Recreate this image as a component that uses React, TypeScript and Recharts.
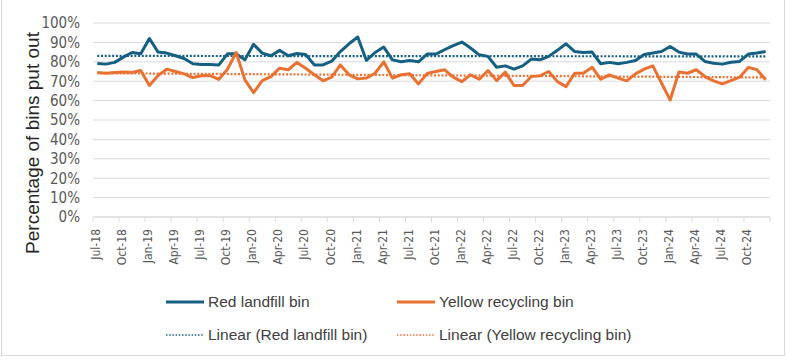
import { LineChart, Line, XAxis, YAxis, CartesianGrid } from 'recharts';

const tickLabels = [
  'Jul-18', 'Oct-18', 'Jan-19', 'Apr-19', 'Jul-19', 'Oct-19', 'Jan-20', 'Apr-20', 'Jul-20',
  'Oct-20', 'Jan-21', 'Apr-21', 'Jul-21', 'Oct-21', 'Jan-22', 'Apr-22', 'Jul-22', 'Oct-22',
  'Jan-23', 'Apr-23', 'Jul-23', 'Oct-23', 'Jan-24', 'Apr-24', 'Jul-24', 'Oct-24',
];

// monthly share of households putting each bin out, Jul-18 .. Dec-24
const redLandfill = [
  79.1, 78.8, 79.7, 82.4, 84.8, 84.1, 92.0, 85.0, 84.5, 83.1, 81.7, 79.0,
  78.6, 78.6, 78.4, 84.1, 84.1, 81.0, 89.0, 84.5, 83.1, 85.9, 83.1, 84.3,
  83.8, 78.4, 78.4, 80.3, 85.3, 89.3, 92.8, 80.7, 84.8, 87.6, 81.0, 80.0,
  80.7, 80.0, 84.0, 84.0, 86.2, 88.3, 90.2, 87.1, 83.6, 82.8, 77.2, 77.9,
  76.2, 77.9, 81.4, 81.0, 82.8, 85.9, 89.3, 85.3, 84.8, 85.0, 79.0, 79.7,
  79.0, 79.7, 80.7, 83.8, 84.5, 85.3, 87.9, 85.0, 84.0, 84.0, 80.2, 79.3,
  78.8, 79.8, 80.2, 84.0, 84.5, 85.3,
];

const yellowRecycling = [
  74.5, 74.1, 74.5, 74.7, 74.5, 75.5, 67.8, 72.9, 76.2, 75.0, 73.8, 71.9,
  72.8, 72.9, 71.0, 76.2, 84.8, 70.7, 64.1, 70.3, 72.4, 76.7, 75.9, 79.7,
  76.7, 73.3, 70.2, 72.1, 78.4, 73.3, 71.2, 71.6, 74.1, 80.0, 71.6, 73.3,
  73.8, 68.6, 74.0, 75.0, 75.9, 72.1, 69.8, 73.3, 71.0, 75.5, 70.3, 74.7,
  67.8, 67.8, 72.4, 72.8, 75.0, 69.8, 67.2, 74.1, 74.1, 77.2, 71.0, 73.3,
  71.6, 70.2, 73.8, 76.2, 77.9, 69.1, 60.3, 74.7, 74.1, 75.9, 72.4, 70.2,
  68.6, 70.3, 72.1, 77.1, 75.9, 70.7,
];

const BLUE = '#156082';
const ORANGE = '#E97132';
const GRID = '#D9D9D9';
const TEXT = '#595959';
const NARROW = "'Liberation Sans Narrow', 'DejaVu Sans Condensed', sans-serif";

// least squares trend, same as Excel's linear trendline
function fit(vals: number[]) {
  const n = vals.length;
  let sx = 0, sy = 0, sxx = 0, sxy = 0;
  vals.forEach((v, i) => {
    sx += i; sy += v; sxx += i * i; sxy += i * v;
  });
  const b = (n * sxy - sx * sy) / (n * sxx - sx * sx);
  const a = (sy - b * sx) / n;
  return (i: number) => a + b * i;
}

const redTrend = fit(redLandfill);
const yellowTrend = fit(yellowRecycling);

const data = redLandfill.map((v, i) => ({
  t: i + 0.5, // mid-month
  red: v,
  yellow: yellowRecycling[i],
  redTrend: redTrend(i),
  yellowTrend: yellowTrend(i),
}));

const xTicks = [...tickLabels.map((_, i) => i * 3), tickLabels.length * 3];
const yTicks = [0, 10, 20, 30, 40, 50, 60, 70, 80, 90, 100];

const MonthTick = (props: any) => {
  const { x, y, payload } = props;
  const label = tickLabels[payload.value / 3] ?? '';
  return (
    <text
      x={x + 3}
      y={y}
      transform={`rotate(-90, ${x + 3}, ${y})`}
      textAnchor="end"
      dy="0.35em"
      fill={TEXT}
      fontSize={12}
      fontFamily={NARROW}
    >
      {label}
    </text>
  );
};

const legendItems = [
  { label: 'Red landfill bin', color: BLUE, dotted: false, x: 166, y: 302 },
  { label: 'Yellow recycling bin', color: ORANGE, dotted: false, x: 397, y: 302 },
  { label: 'Linear (Red landfill bin)', color: BLUE, dotted: true, x: 166, y: 335 },
  { label: 'Linear (Yellow recycling bin)', color: ORANGE, dotted: true, x: 397, y: 335 },
];

export default function App() {
  return (
    <div
      style={{
        position: 'fixed', left: 0, top: 0, width: 787, height: 360,
        background: '#fff', overflow: 'hidden',
        fontFamily: "'Liberation Sans', Arial, sans-serif",
      }}
    >
      <div
        style={{
          position: 'absolute', left: 1, top: -20, width: 782, height: 374,
          border: `1px solid ${GRID}`,
        }}
      />
      <LineChart
        width={787}
        height={360}
        data={data}
        margin={{ top: 23, right: 17, bottom: 0, left: 0 }}
      >
        <CartesianGrid vertical={false} stroke={GRID} />
        <XAxis
          dataKey="t"
          type="number"
          domain={[0, 78]}
          ticks={xTicks}
          interval={0}
          height={143}
          stroke={GRID}
          tickSize={5}
          tickMargin={7}
          tick={<MonthTick />}
        />
        <YAxis
          domain={[0, 100]}
          ticks={yTicks}
          interval={0}
          width={93}
          axisLine={false}
          tickLine={false}
          tickSize={0}
          tickMargin={13}
          tickFormatter={(v: number) => `${v}%`}
          tick={{ fill: TEXT, fontSize: 15, fontFamily: NARROW }}
        />
        <Line
          dataKey="redTrend"
          stroke={BLUE}
          strokeWidth={2.2}
          strokeDasharray="2 1.7"
          dot={false}
          isAnimationActive={false}
        />
        <Line
          dataKey="yellowTrend"
          stroke={ORANGE}
          strokeWidth={2.2}
          strokeDasharray="2 1.7"
          dot={false}
          isAnimationActive={false}
        />
        <Line
          dataKey="red"
          stroke={BLUE}
          strokeWidth={3}
          strokeLinejoin="round"
          dot={false}
          isAnimationActive={false}
        />
        <Line
          dataKey="yellow"
          stroke={ORANGE}
          strokeWidth={3}
          strokeLinejoin="round"
          dot={false}
          isAnimationActive={false}
        />
      </LineChart>
      <div
        style={{
          position: 'absolute', left: 33, top: 143, transform: 'translate(-50%, -50%) rotate(-90deg)',
          whiteSpace: 'nowrap', fontSize: 19, color: '#262626',
        }}
      >
        Percentage of bins put out
      </div>
      {legendItems.map((it) => (
        <div
          key={it.label}
          style={{
            position: 'absolute', left: it.x, top: it.y - 10, height: 20,
            display: 'flex', alignItems: 'center', whiteSpace: 'nowrap',
            fontSize: 15.5, color: '#404040',
          }}
        >
          <svg width={38} height={6} style={{ marginRight: 4 }}>
            <line
              x1={0} x2={38} y1={3} y2={3}
              stroke={it.color}
              strokeWidth={it.dotted ? 1.6 : 3}
              strokeDasharray={it.dotted ? '1.5 1.7' : undefined}
            />
          </svg>
          {it.label}
        </div>
      ))}
    </div>
  );
}
